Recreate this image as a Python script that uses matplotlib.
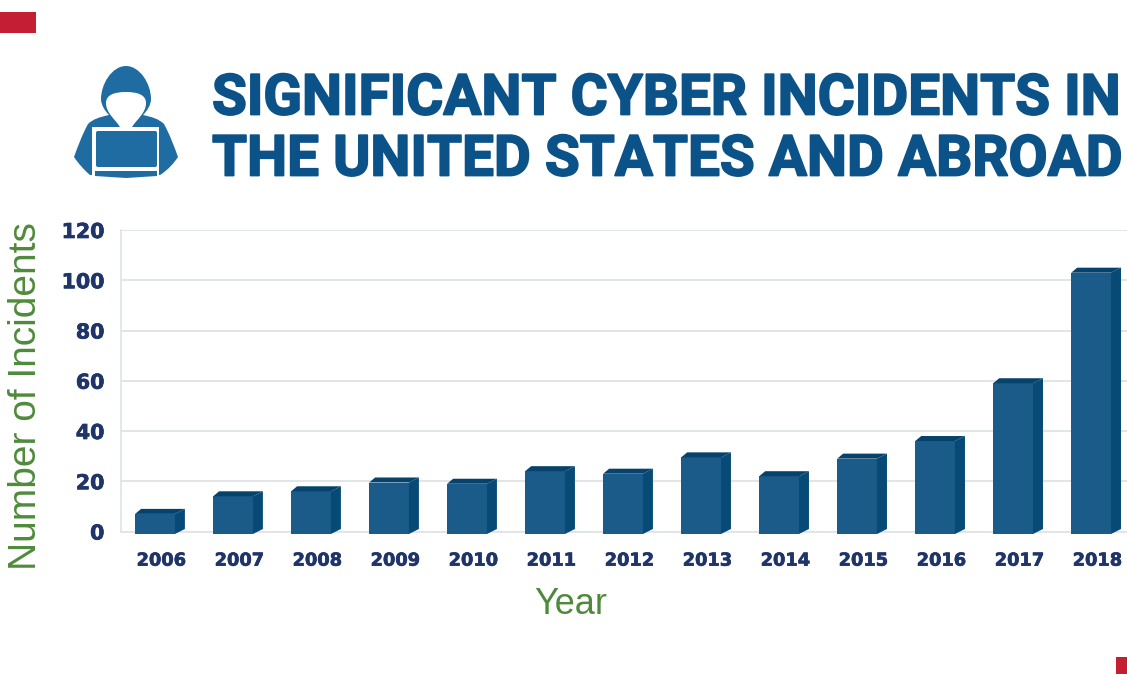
import matplotlib
matplotlib.use("Agg")
import matplotlib.pyplot as plt
import matplotlib.patheffects as pe
from matplotlib.patches import Polygon, PathPatch, Rectangle, FancyBboxPatch
from matplotlib.path import Path
import numpy as np

years = ['2006', '2007', '2008', '2009', '2010', '2011', '2012',
         '2013', '2014', '2015', '2016', '2017', '2018']
incidents = [7, 14, 16, 19.5, 19, 24, 23, 29.5, 22, 29, 36, 59, 103]
y_ticks = [0, 20, 40, 60, 80, 100, 120]

W, H = 1127, 674
navy = '#1f3468'
green = '#4f8a3c'
front = '#1b5b8a'
side = '#064a75'
top = '#05436c'
icon = '#1f6ca3'

plt.rcParams['font.family'] = ['Liberation Sans', 'DejaVu Sans']

fig = plt.figure(figsize=(W / 100, H / 100), dpi=100)

# chart axes, placed by pixels
ax = fig.add_axes([121 / W, 1 - 531.5 / H, (W - 121) / W, 301.5 / H])
ax.set_xlim(-0.436, 12.46)
ax.set_ylim(0, 120)

pos = np.arange(len(years))
bar_w = 0.51
dx = 0.128   # fake 3d depth
dy = 2.0
base = -1

ax.bar(pos, np.array(incidents) - base, bottom=base, width=bar_w, color=front, zorder=3, clip_on=False)
for p, v in zip(pos, incidents):
    r = p + bar_w / 2
    l = p - bar_w / 2
    ax.add_patch(Polygon([(r, base), (r + dx, base + dy), (r + dx, v + dy), (r, v)],
                         color=side, lw=0, zorder=3, clip_on=False))
    ax.add_patch(Polygon([(l, v), (l + dx * 0.6, v + dy), (r + dx, v + dy), (r, v)],
                         color=top, lw=0, zorder=3, clip_on=False))

for s in ['top', 'right']:
    ax.spines[s].set_visible(False)
ax.spines['left'].set_color('#dfe3e6')
ax.spines['bottom'].set_color('#dfe3e6')
ax.spines['left'].set_linewidth(1.2)
ax.spines['bottom'].set_linewidth(1.2)
ax.yaxis.grid(True, color='#dfe3e6', lw=1.3, zorder=0)
ax.set_axisbelow(True)

ax.set_yticks(y_ticks)
ax.set_xticks(pos + 0.08)
ax.set_xticklabels(years)
ax.tick_params(axis='both', length=0)
ax.tick_params(axis='y', pad=12, labelsize=14.8, labelcolor=navy)
ax.tick_params(axis='x', pad=14.5, labelsize=12.8, labelcolor=navy)
for t in ax.get_xticklabels() + ax.get_yticklabels():
    t.set_family(['DejaVu Sans'])
    t.set_fontweight('bold')
    t.set_path_effects([pe.withStroke(linewidth=0.5, foreground=navy)])

ax.set_xlabel('Year', fontsize=26, color=green)
ax.xaxis.set_label_coords((571 - 121) / (W - 121), -73 / 301.5, transform=ax.transAxes)
ax.xaxis.label.set_va('center')
ax.set_ylabel('Number of Incidents', fontsize=28, color=green)
ax.yaxis.set_label_coords((26 - 121) / (W - 121), (531.5 - 396) / 301.5, transform=ax.transAxes)
ax.yaxis.label.set_va('center')

# overlay in pixel coordinates for title, icon and red tabs
ov = fig.add_axes([0, 0, 1, 1], zorder=5)
ov.set_xlim(0, W)
ov.set_ylim(H, 0)
ov.axis('off')
ov.patch.set_alpha(0)

ov.add_patch(Rectangle((0, 12), 36, 21, color='#c41e33', lw=0))
ov.add_patch(Rectangle((1116, 657), 11, 17, color='#c41e33', lw=0))

title_kw = dict(fontsize=40.8, fontweight='bold', color='#0b5288', va='baseline', ha='left',
                family=['Roboto', 'Liberation Sans'],
                path_effects=[pe.withStroke(linewidth=1.3, foreground='#0b5288')])
ov.text(212, 114.5, 'SIGNIFICANT CYBER INCIDENTS IN', **title_kw)
ov.text(212, 175.5, 'THE UNITED STATES AND ABROAD', **title_kw)

# hooded figure
M, L, C, Z = Path.MOVETO, Path.LINETO, Path.CURVE4, Path.CLOSEPOLY
body = [(126, 66), (140, 66), (151, 84), (151, 99),
        (151, 105), (147, 111), (143, 115),
        (152, 117), (159, 119), (164, 124),
        (170, 135), (174, 146), (178, 157),
        (174, 163), (168, 170), (160, 175),
        (90, 175),
        (84, 170), (78, 163), (74, 157),
        (78, 146), (82, 135), (88, 124),
        (93, 119), (100, 117), (109, 115),
        (105, 111), (101, 105), (101, 99),
        (101, 84), (112, 66), (126, 66), (126, 66)]
codes = [M, C, C, C, C, C, C, C, C, C, C, C, C, C, C, C, L,
         C, C, C, C, C, C, C, C, C, C, C, C, C, C, C, Z]
ov.add_patch(PathPatch(Path(body, codes), fc=icon, lw=0))
face = [(126, 92), (138, 92), (146, 95), (146, 103),
        (146, 113), (137, 119), (132, 127),
        (120, 127),
        (115, 119), (106, 113), (106, 103),
        (106, 95), (114, 92), (126, 92), (126, 92)]
face_codes = [M, C, C, C, C, C, C, L, C, C, C, C, C, C, Z]
ov.add_patch(PathPatch(Path(face, face_codes), fc='white', lw=0))
ov.add_patch(Rectangle((92, 127), 67, 50, fc='white', lw=0))
ov.add_patch(FancyBboxPatch((96, 131), 61, 36, boxstyle='round,pad=0,rounding_size=2', fc=icon, lw=0))
ov.add_patch(Polygon([(95, 171), (157, 171), (157, 176), (126, 178), (95, 176)], fc=icon, lw=0))

fig.savefig('out.png', dpi=100, facecolor='white')
